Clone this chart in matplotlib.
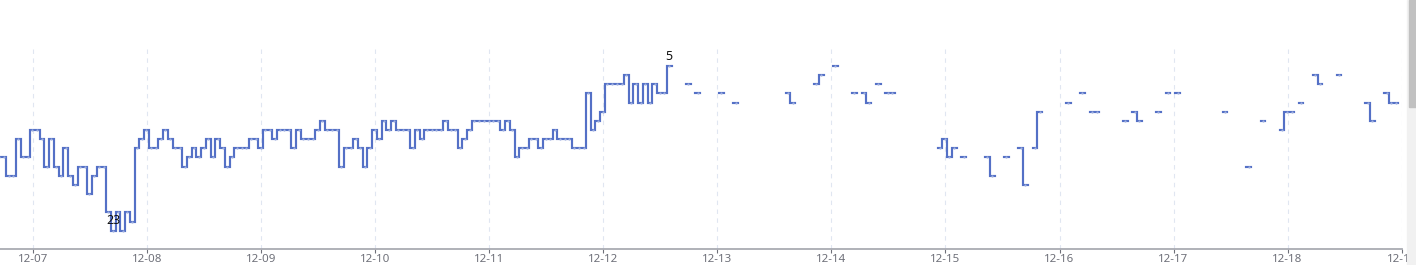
import numpy as np
import pandas as pd
import matplotlib
matplotlib.use("Agg")
import matplotlib.pyplot as plt
import matplotlib.dates as mdates
from matplotlib.patches import Rectangle

plt.rcParams['font.family'] = ['Noto Sans', 'DejaVu Sans']

# ---------------- data ----------------
series_start = "2023-12-06 16:50"   # hourly samples from here
# contiguous hourly ranks (index 0 .. 141)
dense_ranks = [15,
               15, 17, 17, 13, 15, 15, 12, 12, 13, 16,
               13, 16, 17, 14, 17, 18, 16, 16, 19, 17,
               16, 16, 21, 23, 21, 23, 21, 22, 14, 13,
               12, 14, 14, 13, 12, 13, 14, 14, 16, 15,
               14, 15, 14, 13, 15, 13, 14, 16, 15, 14,
               14, 14, 13, 13, 14, 12, 12, 13, 12, 12,
               12, 14, 12, 13, 13, 13, 12, 11, 12, 12,
               12, 16, 14, 14, 13, 14, 16, 14, 12, 13,
               11, 12, 11, 12, 12, 12, 14, 12, 13, 12,
               12, 12, 12, 11, 12, 12, 14, 13, 12, 11,
               11, 11, 11, 11, 11, 12, 11, 12, 15, 14,
               14, 13, 13, 14, 13, 13, 12, 13, 13, 13,
               14, 14, 14, 8, 12, 11, 10, 7, 7, 7,
               7, 6, 9, 7, 9, 7, 9, 7, 8, 8, 5]
# later, sparse samples: hour index (from series_start) and rank
sparse_hours = [145, 147, 152, 155, 166, 167, 172, 173, 176, 180,
                182, 183, 185, 187, 188, 198, 199, 200, 201, 203,
                208, 209, 212, 215, 216, 218, 219, 225, 228, 230,
                231, 237, 239, 240, 244, 246, 248, 258, 263, 266,
                270, 271, 272, 274, 277, 278, 282, 288, 289, 292,
                293, 294]
sparse_ranks = [7, 8, 8, 9, 8, 9, 7, 6, 5, 8,
                8, 9, 7, 8, 8, 14, 13, 15, 14, 15,
                15, 17, 15, 14, 18, 14, 10, 9, 8, 10,
                10, 11, 10, 11, 10, 8, 8, 10, 16, 11,
                12, 10, 10, 9, 6, 7, 6, 9, 11, 8,
                9, 9]
x_min = "2023-12-06 17:00"
x_max = "2023-12-19 00:00"
day_ticks = pd.date_range("2023-12-07", "2023-12-19", freq="D")
tick_labels = [d.strftime("%m-%d") for d in day_ticks]

# ---------------- build series ----------------
n = max(sparse_hours) + 2
times = pd.date_range(series_start, periods=n, freq="h")
vals = np.full(n, np.nan)
vals[:len(dense_ranks)] = dense_ranks
vals[sparse_hours] = sparse_ranks
tnum = mdates.date2num(times.to_pydatetime())
half = 0.5 / 24.0

# echarts-like 'middle' step, isolated points drawn as 1-hour dashes
xs, ys = [], []
i = 0
while i < n:
    if np.isnan(vals[i]):
        i += 1
        continue
    xs.append(tnum[i] - half); ys.append(vals[i])
    while i < n and not np.isnan(vals[i]):
        xs.append(tnum[i] + half); ys.append(vals[i])
        if i + 1 < n and not np.isnan(vals[i + 1]):
            xs.append(tnum[i] + half); ys.append(vals[i + 1])
        i += 1
    xs.append(np.nan); ys.append(np.nan)

W, H = 1416, 265
fig = plt.figure(figsize=(W / 100, H / 100), dpi=100)
ax_left, ax_right = 0.0, 1401.6
ax_top, ax_bot = 47.7, 249.0
ax = fig.add_axes([ax_left / W, (H - ax_bot) / H,
                   (ax_right - ax_left) / W, (ax_bot - ax_top) / H])

blue = '#5470c6'
ax.plot(xs, ys, color=blue, lw=1.55, solid_joinstyle='miter', zorder=3)
ax.plot(tnum, vals, ls='none', marker='o', ms=1.6, mfc='#9fb0e0',
        mec='none', zorder=4)

ax.set_xlim(mdates.date2num(pd.Timestamp(x_min)), mdates.date2num(pd.Timestamp(x_max)))
ax.set_ylim(25, 3)

# best / worst rank labels
best_i = int(np.nanargmin(vals))
worst_i = int(np.nanargmax(vals))
for idx in (best_i, worst_i):
    ax.annotate(f"{int(vals[idx])}", (tnum[idx], vals[idx]), xytext=(0, 7),
                textcoords='offset points', ha='center', va='center',
                fontsize=9, color='#111111', zorder=5)

tick_pos = mdates.date2num(day_ticks.to_pydatetime())
ax.set_xticks(tick_pos)
ax.set_xticklabels(tick_labels)
ax.tick_params(axis='x', length=3.2, width=0.8, color='#6E7079', pad=0.6,
               labelsize=8.3, labelcolor='#6E7079')
ax.set_yticks([])
for s in ('top', 'right', 'left'):
    ax.spines[s].set_visible(False)
ax.spines['bottom'].set_color('#a9abb2')
ax.spines['bottom'].set_linewidth(1.3)
for tp in tick_pos:
    ax.axvline(tp, color='#E0E6F1', lw=0.8, ls=(0, (4, 4)), zorder=1)
ax.patch.set_alpha(0)

# browser scrollbar at the right edge
fig.add_artist(Rectangle((1406.7 / W, 0), (W - 1406.7) / W, 1,
                         transform=fig.transFigure, color='#f1f1f1', zorder=10))
fig.add_artist(Rectangle((1409 / W, (H - 107) / H), (W - 1409) / W, 107 / H,
                         transform=fig.transFigure, color='#c1c1c1', zorder=11))

fig.savefig("out.png", dpi=100)
